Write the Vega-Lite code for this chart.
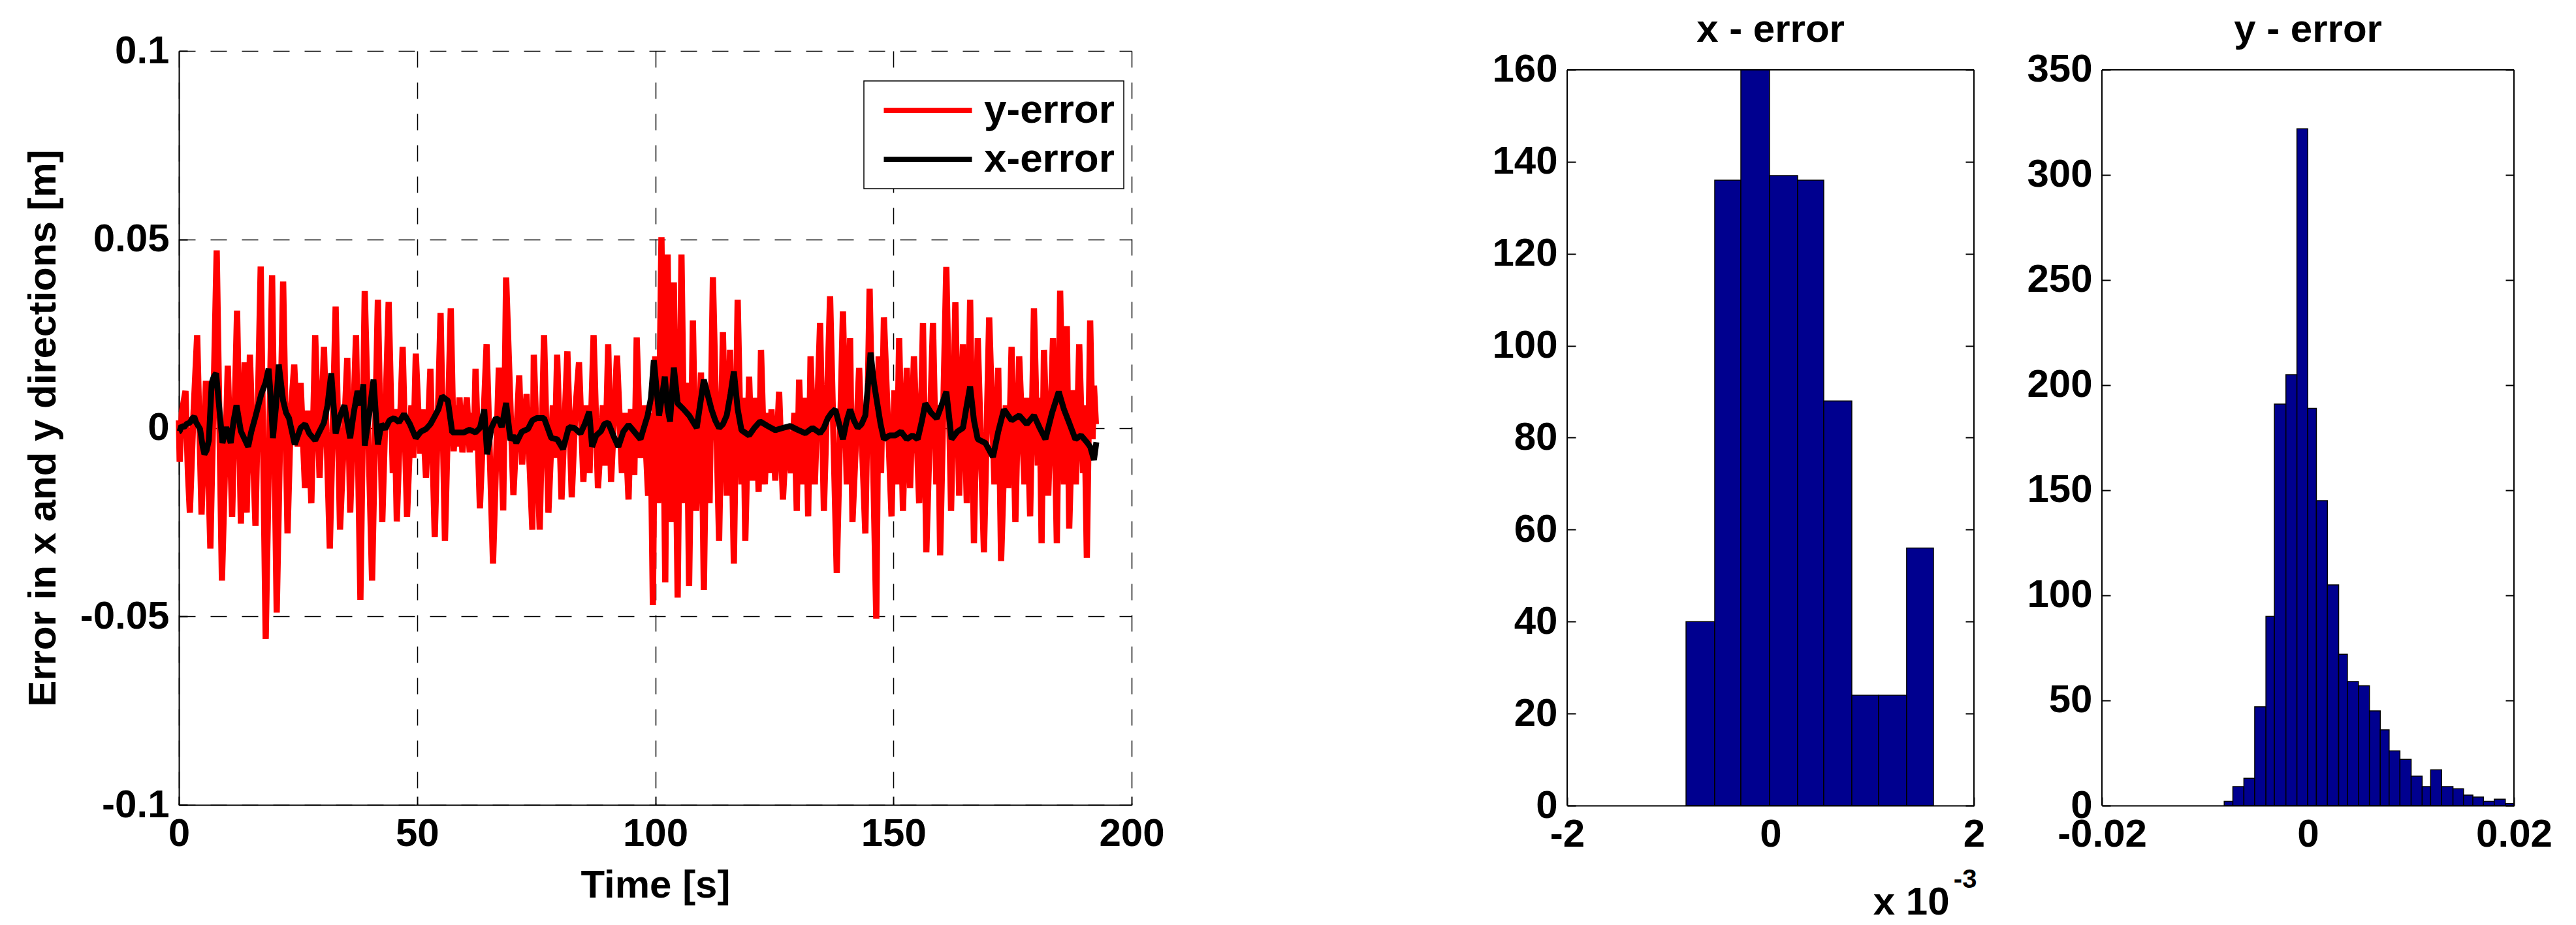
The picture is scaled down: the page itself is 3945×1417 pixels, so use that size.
{
  "$schema": "https://vega.github.io/schema/vega-lite/v6.json",
  "background": "white",
  "padding": {"left": 36, "top": 15, "right": 5, "bottom": 5},
  "spacing": 500,
  "config": {
    "font": "Liberation Sans",
    "view": {"stroke": null},
    "axis": {
      "labelFont": "Liberation Sans", "labelFontSize": 60, "labelFontWeight": "bold", "labelColor": "#000",
      "titleFont": "Liberation Sans", "titleFontSize": 60, "titleFontWeight": "bold", "titleColor": "#000",
      "domainColor": "#000", "domainWidth": 2, "tickColor": "#000", "tickWidth": 2, "tickSize": -13,
      "labelPadding": 28, "gridColor": "#000", "gridWidth": 1.5, "gridDash": [25, 23], "gridOpacity": 1,
      "labelFlush": false, "labelOverlap": false
    },
    "legend": {"strokeWidth": 1.5},
    "title": {"font": "Liberation Sans", "fontSize": 60, "fontWeight": "bold", "color": "#000"}
  },
  "datasets": {
    "yerr": [
      {"t":0.0,"v":0.002},{"t":0.16,"v":-0.009},{"t":0.6,"v":0.004},{"t":1.38,"v":0.0098},{"t":1.9,"v":-0.012},{"t":2.3,"v":-0.0225},{"t":3.0,"v":0.002},{"t":3.83,"v":0.0246},{"t":4.75,"v":-0.023},{"t":5.67,"v":0.0125},{"t":6.6,"v":-0.032},{"t":7.93,"v":0.0471},{"t":9.03,"v":-0.0405},{"t":10.26,"v":0.0165},{"t":11.17,"v":-0.0236},{"t":12.21,"v":0.0311},{"t":13.01,"v":-0.0254},{"t":13.8,"v":0.0174},{"t":14.23,"v":-0.0225},{"t":14.9,"v":0.0194},{"t":16.07,"v":-0.026},{"t":17.17,"v":0.0428},{"t":18.22,"v":-0.056},{"t":19.56,"v":0.0405},{"t":20.53,"v":-0.049},{"t":21.88,"v":0.0388},{"t":22.8,"v":-0.028},{"t":23.5,"v":0.004},{"t":24.21,"v":0.0168},{"t":24.95,"v":-0.005},{"t":25.55,"v":0.0119},{"t":26.47,"v":-0.016},{"t":27.08,"v":0.0046},{"t":27.8,"v":-0.02},{"t":28.61,"v":0.0246},{"t":29.53,"v":-0.0132},{"t":30.45,"v":0.0215},{"t":31.68,"v":-0.032},{"t":32.9,"v":0.0322},{"t":33.82,"v":-0.027},{"t":35.34,"v":0.0186},{"t":35.96,"v":-0.0225},{"t":37.18,"v":0.0246},{"t":38.1,"v":-0.0456},{"t":39.01,"v":0.0363},{"t":40.55,"v":-0.0405},{"t":41.77,"v":0.034},{"t":42.69,"v":-0.025},{"t":44.03,"v":0.0334},{"t":44.9,"v":-0.012},{"t":45.3,"v":0.005},{"t":45.74,"v":-0.0248},{"t":46.97,"v":0.0215},{"t":47.89,"v":-0.0236},{"t":48.8,"v":0.006},{"t":49.2,"v":-0.008},{"t":49.73,"v":0.0197},{"t":50.64,"v":-0.0068},{"t":51.13,"v":0.0049},{"t":51.87,"v":-0.0132},{"t":52.79,"v":0.0157},{"t":53.71,"v":-0.029},{"t":54.93,"v":0.0305},{"t":55.85,"v":-0.03},{"t":57.07,"v":0.0317},{"t":57.68,"v":-0.0062},{"t":58.3,"v":0.006},{"t":58.6,"v":-0.005},{"t":58.9,"v":0.0081},{"t":59.52,"v":-0.0065},{"t":60.44,"v":0.0081},{"t":61.04,"v":-0.0065},{"t":61.6,"v":0.004},{"t":61.9,"v":-0.006},{"t":62.27,"v":0.0157},{"t":63.19,"v":-0.0213},{"t":64.59,"v":0.0222},{"t":65.94,"v":-0.036},{"t":67.16,"v":0.016},{"t":68.08,"v":-0.0219},{"t":68.69,"v":0.0399},{"t":70.22,"v":-0.0178},{"t":71.44,"v":0.0139},{"t":72.06,"v":-0.0097},{"t":72.98,"v":0.009},{"t":74.2,"v":-0.027},{"t":74.5,"v":0.0194},{"t":75.74,"v":-0.027},{"t":76.65,"v":0.0246},{"t":77.57,"v":-0.0225},{"t":78.5,"v":0.006},{"t":78.9,"v":-0.008},{"t":79.4,"v":0.0194},{"t":80.32,"v":-0.019},{"t":81.55,"v":0.0203},{"t":82.47,"v":-0.0184},{"t":83.2,"v":0.004},{"t":83.99,"v":0.0174},{"t":84.91,"v":-0.0143},{"t":85.6,"v":0.006},{"t":86.2,"v":-0.012},{"t":87.05,"v":0.0246},{"t":87.97,"v":-0.016},{"t":89.0,"v":0.006},{"t":89.5,"v":-0.01},{"t":90.12,"v":0.0222},{"t":90.72,"v":-0.0143},{"t":91.96,"v":0.0192},{"t":93.0,"v":-0.012},{"t":93.6,"v":0.004},{"t":94.39,"v":-0.019},
      {"t":94.9,"v":0.005},{"t":95.6,"v":-0.0125},{"t":96.1,"v":0.024},{"t":96.9,"v":-0.008},{"t":97.6,"v":0.006},{"t":98.5,"v":-0.018},{"t":99.0,"v":0.004},{"t":99.5,"v":-0.047},{"t":100.0,"v":0.019},{"t":100.6,"v":-0.02},{"t":101.3,"v":0.0506},{"t":102.1,"v":-0.041},{"t":102.6,"v":0.046},{"t":103.3,"v":-0.025},{"t":103.9,"v":0.0386},{"t":104.7,"v":-0.045},{"t":105.5,"v":0.046},{"t":106.2,"v":-0.02},{"t":106.6,"v":0.012},{"t":107.1,"v":-0.042},{"t":107.9,"v":0.0285},{"t":108.6,"v":-0.022},{"t":109.6,"v":0.0147},{"t":110.2,"v":-0.043},{"t":110.8,"v":0.01},{"t":111.4,"v":-0.02},{"t":112.1,"v":0.04},{"t":113.4,"v":-0.03},{"t":114.2,"v":0.0254},{"t":115.0,"v":-0.018},{"t":115.7,"v":0.0207},{"t":116.5,"v":-0.036},{"t":117.3,"v":0.034},{"t":118.1,"v":-0.015},{"t":118.5,"v":0.008},{"t":118.9,"v":-0.03},{"t":119.7,"v":0.0136},{"t":120.4,"v":-0.014},{"t":121.1,"v":0.008},{"t":121.7,"v":-0.017},{"t":122.2,"v":0.0207},{"t":123.0,"v":-0.015},{"t":123.6,"v":0.004},{"t":124.0,"v":-0.012},{"t":124.4,"v":0.0049},{"t":125.2,"v":-0.014},{"t":126.0,"v":0.0096},{"t":126.8,"v":-0.019},{"t":127.6,"v":0.0},{"t":128.5,"v":-0.012},{"t":129.2,"v":0.004},{"t":129.7,"v":-0.022},{"t":130.2,"v":0.0128},{"t":131.0,"v":-0.015},{"t":131.6,"v":0.008},{"t":132.1,"v":-0.0235},{"t":132.6,"v":0.019},{"t":133.5,"v":-0.015},{"t":134.6,"v":0.0278},{"t":135.4,"v":-0.022},{"t":136.7,"v":0.0349},{"t":138.1,"v":-0.0385},{"t":139.4,"v":0.0309},{"t":140.2,"v":-0.015},{"t":140.9,"v":0.0238},{"t":141.4,"v":-0.025},{"t":142.8,"v":0.0159},{"t":144.1,"v":-0.028},{"t":145.0,"v":0.0369},{"t":146.4,"v":-0.0506},{"t":146.9,"v":0.019},{"t":147.4,"v":-0.012},{"t":148.0,"v":0.0293},{"t":149.6,"v":-0.0235},{"t":150.2,"v":0.01},{"t":150.7,"v":-0.015},{"t":151.2,"v":0.0238},{"t":152.0,"v":-0.022},{"t":152.8,"v":0.0159},{"t":153.5,"v":-0.016},{"t":154.3,"v":0.019},{"t":155.4,"v":-0.02},{"t":156.2,"v":0.0278},{"t":156.9,"v":-0.033},{"t":158.3,"v":0.0278},{"t":159.0,"v":-0.015},{"t":159.4,"v":0.006},{"t":159.8,"v":-0.0338},{"t":161.1,"v":0.0427},{"t":162.1,"v":-0.022},{"t":163.0,"v":0.0333},{"t":163.8,"v":-0.018},{"t":164.6,"v":0.0222},{"t":165.4,"v":-0.02},{"t":166.1,"v":0.034},{"t":166.9,"v":-0.0306},{"t":167.7,"v":0.0238},{"t":169.0,"v":-0.033},{"t":170.1,"v":0.0293},{"t":171.2,"v":-0.015},{"t":172.0,"v":0.0159},{"t":172.6,"v":-0.0353},{"t":173.6,"v":0.006},{"t":174.1,"v":-0.016},{"t":174.8,"v":0.0215},{"t":175.6,"v":-0.025},{"t":176.4,"v":0.019},{"t":177.5,"v":-0.015},{"t":178.0,"v":0.008},{"t":178.7,"v":-0.0235},{"t":179.5,"v":0.0317},{"t":180.3,"v":-0.01},{"t":180.7,"v":0.008},{"t":181.1,"v":-0.0306},{"t":181.6,"v":0.0207},{"t":182.5,"v":-0.018},{"t":183.5,"v":0.0238},{"t":184.3,"v":-0.0306},{"t":185.0,"v":0.0364},{"t":185.8,"v":-0.015},{"t":186.4,"v":0.027},{"t":186.9,"v":-0.0267},{"t":187.7,"v":0.01},{"t":188.3,"v":-0.015},{"t":189.0,"v":0.0222},{"t":189.8,"v":-0.012},{"t":190.1,"v":0.006},{"t":190.6,"v":-0.0345},{"t":191.3,"v":0.0285},{"t":191.8,"v":-0.003},{"t":192.1,"v":0.0112},{"t":192.5,"v":0.001}
    ],
    "xerr": [
      {"t":0.0,"v":-0.001},{"t":0.16,"v":-0.0009},{"t":0.5,"v":0.0005},{"t":1.07,"v":0.0002},{"t":1.6,"v":0.001},{"t":2.3,"v":0.0014},{"t":2.8,"v":0.0025},{"t":3.22,"v":0.003},{"t":3.6,"v":0.0015},{"t":4.44,"v":-0.0003},{"t":5.0,"v":-0.005},{"t":5.36,"v":-0.007},{"t":5.8,"v":-0.006},{"t":6.28,"v":-0.0033},{"t":6.89,"v":0.012},{"t":7.3,"v":0.0135},{"t":7.81,"v":0.0145},{"t":8.42,"v":0.006},{"t":9.15,"v":-0.004},{"t":9.95,"v":0.0002},{"t":10.87,"v":-0.004},{"t":11.5,"v":0.002},{"t":12.09,"v":0.006},{"t":13.01,"v":-0.0009},{"t":14.54,"v":-0.005},{"t":15.2,"v":-0.001},{"t":16.07,"v":0.003},{"t":17.29,"v":0.009},{"t":18.2,"v":0.012},{"t":18.82,"v":0.0157},{"t":19.3,"v":0.008},{"t":19.74,"v":-0.0027},{"t":20.4,"v":0.006},{"t":20.96,"v":0.0168},{"t":21.88,"v":0.0072},{"t":22.5,"v":0.004},{"t":23.11,"v":0.0026},{"t":24.33,"v":-0.0044},{"t":25.55,"v":0.0},{"t":26.5,"v":0.001},{"t":27.39,"v":-0.0015},{"t":28.61,"v":-0.0033},{"t":29.5,"v":-0.001},{"t":30.45,"v":0.0014},{"t":31.2,"v":0.006},{"t":31.98,"v":0.0145},{"t":32.9,"v":-0.0015},{"t":33.8,"v":0.003},{"t":34.73,"v":0.006},{"t":35.96,"v":-0.0027},{"t":36.7,"v":0.004},{"t":37.49,"v":0.0098},{"t":38.2,"v":0.006},{"t":38.71,"v":0.0116},{"t":39.01,"v":-0.0047},{"t":40.0,"v":0.004},{"t":40.85,"v":0.0128},{"t":41.77,"v":-0.0044},{"t":42.5,"v":0.001},{"t":43.3,"v":-0.0003},{"t":44.2,"v":0.002},{"t":45.13,"v":0.0026},{"t":46.2,"v":0.0015},{"t":47.28,"v":0.0037},{"t":48.5,"v":0.001},{"t":49.73,"v":-0.0027},{"t":50.8,"v":-0.001},{"t":51.87,"v":-0.0003},{"t":52.8,"v":0.001},{"t":53.71,"v":0.0031},{"t":54.5,"v":0.005},{"t":55.24,"v":0.0084},{"t":56.46,"v":0.0072},{"t":57.38,"v":-0.0012},{"t":58.6,"v":-0.0012},{"t":59.83,"v":-0.0012},{"t":61.0,"v":-0.0005},{"t":62.27,"v":-0.0012},{"t":63.2,"v":0.0},{"t":64.1,"v":0.0049},{"t":64.71,"v":-0.007},{"t":65.6,"v":0.0},{"t":66.55,"v":0.0026},{"t":67.2,"v":0.002},{"t":67.77,"v":0.0002},{"t":68.69,"v":0.0066},{"t":69.61,"v":-0.0033},{"t":70.2,"v":-0.002},{"t":70.83,"v":-0.004},{"t":72.0,"v":-0.001},{"t":73.28,"v":-0.0003},{"t":74.2,"v":0.002},{"t":75.11,"v":0.0026},{"t":76.65,"v":0.0026},{"t":77.4,"v":0.0},{"t":78.18,"v":-0.0027},{"t":79.4,"v":-0.003},{"t":80.63,"v":-0.0056},{"t":81.86,"v":0.0002},{"t":83.0,"v":0.0},{"t":84.3,"v":-0.0015},{"t":85.2,"v":0.001},{"t":86.13,"v":0.0043},{"t":86.74,"v":-0.005},{"t":87.6,"v":-0.002},{"t":88.58,"v":-0.0009},{"t":89.3,"v":0.001},{"t":90.12,"v":0.0014},{"t":91.2,"v":-0.002},{"t":92.26,"v":-0.005},{"t":93.3,"v":-0.001},{"t":94.39,"v":0.0008},{"t":95.6,"v":-0.001},{"t":96.9,"v":-0.003},{"t":97.6,"v":0.0},{"t":98.4,"v":0.0033},{"t":99.1,"v":0.008},{"t":99.7,"v":0.018},{"t":100.3,"v":0.01},{"t":100.8,"v":0.0033},{"t":101.4,"v":0.008},{"t":102.0,"v":0.0136},{"t":102.6,"v":0.005},{"t":103.1,"v":0.0017},{"t":103.9,"v":0.016},{"t":104.7,"v":0.0065},{"t":105.9,"v":0.005},{"t":107.1,"v":0.0033},{"t":108.7,"v":0.0},{"t":109.4,"v":0.006},{"t":110.2,"v":0.0128},{"t":111.8,"v":0.0049},{"t":112.6,"v":0.002},{"t":113.4,"v":0.0},{"t":114.2,"v":0.001},{"t":115.0,"v":0.0033},{"t":115.8,"v":0.009},{"t":116.5,"v":0.015},{"t":117.3,"v":0.005},{"t":118.1,"v":-0.0006},{"t":119.7,"v":-0.002},{"t":120.8,"v":0.0},{"t":122.0,"v":0.0017},{"t":123.6,"v":0.0005},{"t":125.2,"v":-0.0006},{"t":126.8,"v":0.0},{"t":128.3,"v":0.0005},{"t":129.9,"v":-0.0005},{"t":131.5,"v":-0.0014},{"t":133.0,"v":0.0},{"t":134.6,"v":-0.0014},{"t":135.4,"v":0.0},{"t":136.2,"v":0.0025},{"t":137.0,"v":0.004},{"t":137.8,"v":0.0049},{"t":138.6,"v":0.001},{"t":139.4,"v":-0.003},{"t":140.2,"v":0.002},{"t":140.9,"v":0.0049},{"t":141.7,"v":0.002},{"t":142.5,"v":0.0},{"t":143.3,"v":0.001},{"t":144.1,"v":0.0033},{"t":144.7,"v":0.012},{"t":145.2,"v":0.02},{"t":145.9,"v":0.012},{"t":146.6,"v":0.0065},{"t":147.3,"v":0.001},{"t":148.0,"v":-0.003},{"t":149.2,"v":-0.002},{"t":150.4,"v":-0.002},{"t":151.6,"v":-0.001},{"t":152.8,"v":-0.003},{"t":154.0,"v":-0.002},{"t":155.1,"v":-0.003},{"t":156.0,"v":0.002},{"t":156.7,"v":0.0065},{"t":157.9,"v":0.004},{"t":159.1,"v":0.0025},{"t":160.1,"v":0.006},{"t":161.1,"v":0.0096},{"t":161.6,"v":0.004},{"t":162.2,"v":-0.003},{"t":163.4,"v":-0.001},{"t":164.6,"v":0.0},{"t":165.4,"v":0.006},{"t":166.1,"v":0.011},{"t":166.9,"v":0.002},{"t":167.7,"v":-0.003},{"t":169.3,"v":-0.004},{"t":170.9,"v":-0.0077},{"t":172.0,"v":-0.001},{"t":173.2,"v":0.0049},{"t":174.8,"v":0.002},{"t":176.4,"v":0.0033},{"t":178.0,"v":0.001},{"t":179.5,"v":0.0033},{"t":180.7,"v":0.0},{"t":181.9,"v":-0.003},{"t":183.3,"v":0.004},{"t":184.7,"v":0.0096},{"t":185.8,"v":0.0049},{"t":187.0,"v":0.001},{"t":188.2,"v":-0.003},{"t":189.4,"v":-0.002},{"t":190.6,"v":-0.0038},{"t":191.3,"v":-0.005},{"t":192.1,"v":-0.0085},{"t":192.6,"v":-0.0038}
    ],
    "hx": [
      {"x0":-0.000831,"x1":-0.000549,"n":40},{"x0":-0.000549,"x1":-0.000292,"n":136},{"x0":-0.000292,"x1":-0.00001,"n":160},{"x0":-0.00001,"x1":0.000266,"n":137},{"x0":0.000266,"x1":0.000523,"n":136},{"x0":0.000523,"x1":0.000799,"n":88},{"x0":0.000799,"x1":0.001062,"n":24},{"x0":0.001062,"x1":0.001338,"n":24},{"x0":0.001338,"x1":0.001602,"n":56}
    ],
    "hy": [
      {"x0":-0.00813,"x1":-0.00729,"n":2},{"x0":-0.00729,"x1":-0.00622,"n":9},{"x0":-0.00622,"x1":-0.00517,"n":13},{"x0":-0.00517,"x1":-0.00408,"n":47},{"x0":-0.00408,"x1":-0.00326,"n":90},{"x0":-0.00326,"x1":-0.00214,"n":191},{"x0":-0.00214,"x1":-0.00107,"n":205},{"x0":-0.00107,"x1":-0.00002,"n":322},{"x0":-0.00002,"x1":0.00082,"n":189},{"x0":0.00082,"x1":0.00189,"n":145},{"x0":0.00189,"x1":0.00298,"n":105},{"x0":0.00298,"x1":0.00383,"n":72},{"x0":0.00383,"x1":0.0049,"n":59},{"x0":0.0049,"x1":0.00597,"n":57},{"x0":0.00597,"x1":0.00702,"n":45},{"x0":0.00702,"x1":0.00788,"n":36},{"x0":0.00788,"x1":0.00893,"n":26},{"x0":0.00893,"x1":0.01002,"n":22},{"x0":0.01002,"x1":0.01109,"n":14},{"x0":0.01109,"x1":0.01191,"n":9},{"x0":0.01191,"x1":0.01298,"n":17},{"x0":0.01298,"x1":0.01408,"n":9},{"x0":0.01408,"x1":0.0151,"n":8},{"x0":0.0151,"x1":0.01601,"n":5},{"x0":0.01601,"x1":0.01704,"n":4},{"x0":0.01704,"x1":0.01809,"n":2},{"x0":0.01809,"x1":0.01916,"n":3},{"x0":0.01916,"x1":0.02,"n":1}
    ]
  },
  "hconcat": [
    {
      "width": 1459,
      "height": 1155,
      "layer": [
        {
          "data": {"name": "yerr"},
          "mark": {"type": "line", "strokeWidth": 9.5, "strokeJoin": "bevel"},
          "encoding": {
            "x": {"field": "t", "type": "quantitative",
              "scale": {"domain": [0, 200], "nice": false, "zero": false},
              "axis": {"values": [0, 50, 100, 150, 200], "grid": true, "title": "Time [s]", "labelExpr": "'' + datum.value", "titlePadding": 20}},
            "y": {"field": "v", "type": "quantitative",
              "scale": {"domain": [-0.1, 0.1], "nice": false, "zero": false},
              "axis": {"values": [-0.1, -0.05, 0, 0.05, 0.1], "grid": true, "title": "Error in x and y directions [m]", "labelExpr": "'' + datum.value", "titlePadding": 25}},
            "color": {"datum": "y-error", "type": "nominal",
              "scale": {"domain": ["y-error", "x-error"], "range": ["#ff0000", "#000000"]},
              "legend": {"orient": "none", "legendX": 1049, "legendY": 46, "title": null,
                "symbolType": "M-2.5,0H2.5", "symbolSize": 2916, "symbolStrokeWidth": 8,
                "labelFont": "Liberation Sans", "labelFontSize": 62, "labelFontWeight": "bold", "labelColor": "#000", "labelLimit": 500,
                "labelOffset": 55, "symbolOffset": 53, "padding": 14, "rowPadding": 13,
                "strokeColor": "#000", "fillColor": "#fff"}}
          }
        },
        {
          "data": {"name": "xerr"},
          "mark": {"type": "line", "strokeWidth": 9, "strokeJoin": "bevel"},
          "encoding": {
            "x": {"field": "t", "type": "quantitative"},
            "y": {"field": "v", "type": "quantitative"},
            "color": {"datum": "x-error", "type": "nominal"}
          }
        }
      ]
    },
    {
      "spacing": 63,
      "hconcat": [
        {
          "width": 623,
          "height": 1156,
          "title": {"text": "x - error", "offset": 0, "frame": "group"},
          "layer": [
            {
              "data": {"name": "hx"},
              "mark": {"type": "bar", "fill": "#00008F", "stroke": "#000", "strokeWidth": 1.5},
              "encoding": {
                "x": {"field": "x0", "type": "quantitative",
                  "scale": {"domain": [-0.002, 0.002], "nice": false, "zero": false},
                  "axis": {"values": [-0.002, 0, 0.002], "labelExpr": "'' + round(datum.value*1000)", "title": null, "grid": false}},
                "x2": {"field": "x1"},
                "y": {"field": "n", "type": "quantitative",
                  "scale": {"domain": [0, 164.117], "nice": false},
                  "axis": {"orient": "left", "values": [0, 20, 40, 60, 80, 100, 120, 140, 160], "domain": false, "grid": false, "title": null}},
                "y2": {"datum": 0}
              }
            },
            {
              "data": {"values": [{}]},
              "mark": {"type": "rule", "color": "#000", "strokeWidth": 2},
              "encoding": {
                "x": {"datum": 0.002},
                "y": {"datum": 0, "type": "quantitative", "axis": {"orient": "right", "labels": false, "values": [0, 20, 40, 60, 80, 100, 120, 140, 160], "domain": false, "grid": false, "title": null}},
                "y2": {"datum": 160}
              }
            },
            {
              "data": {"values": [{}]},
              "mark": {"type": "rule", "color": "#000", "strokeWidth": 2},
              "encoding": {"x": {"datum": -0.002}, "y": {"datum": 0, "type": "quantitative", "axis": null}, "y2": {"datum": 160}}
            },
            {
              "data": {"values": [{}]},
              "mark": {"type": "rule", "color": "#000", "strokeWidth": 2},
              "encoding": {"x": {"datum": -0.002}, "x2": {"datum": 0.002}, "y": {"datum": 160, "type": "quantitative", "axis": null}}
            },
            {
              "data": {"values": [{}]},
              "mark": {"type": "text", "text": "x 10", "align": "left", "baseline": "alphabetic", "font": "Liberation Sans", "fontSize": 60, "fontWeight": "bold", "color": "#000"},
              "encoding": {"x": {"datum": 0.00101}, "y": {"datum": -23.7, "type": "quantitative", "axis": null}}
            },
            {
              "data": {"values": [{}]},
              "mark": {"type": "text", "text": "-3", "align": "left", "baseline": "alphabetic", "font": "Liberation Sans", "fontSize": 40, "fontWeight": "bold", "color": "#000"},
              "encoding": {"x": {"datum": 0.0018}, "y": {"datum": -17.9, "type": "quantitative", "axis": null}}
            }
          ],
          "resolve": {"axis": {"y": "independent"}}
        },
        {
          "width": 631,
          "height": 1156,
          "title": {"text": "y - error", "offset": 0, "frame": "group"},
          "layer": [
            {
              "data": {"name": "hy"},
              "mark": {"type": "bar", "fill": "#00008F", "stroke": "#000", "strokeWidth": 1.5},
              "encoding": {
                "x": {"field": "x0", "type": "quantitative",
                  "scale": {"domain": [-0.02, 0.02], "nice": false, "zero": false},
                  "axis": {"values": [-0.02, 0, 0.02], "labelExpr": "'' + datum.value", "title": null, "grid": false}},
                "x2": {"field": "x1"},
                "y": {"field": "n", "type": "quantitative",
                  "scale": {"domain": [0, 359.0], "nice": false},
                  "axis": {"orient": "left", "values": [0, 50, 100, 150, 200, 250, 300, 350], "domain": false, "grid": false, "title": null}},
                "y2": {"datum": 0}
              }
            },
            {
              "data": {"values": [{}]},
              "mark": {"type": "rule", "color": "#000", "strokeWidth": 2},
              "encoding": {
                "x": {"datum": 0.02},
                "y": {"datum": 0, "type": "quantitative", "axis": {"orient": "right", "labels": false, "values": [0, 50, 100, 150, 200, 250, 300, 350], "domain": false, "grid": false, "title": null}},
                "y2": {"datum": 350}
              }
            },
            {
              "data": {"values": [{}]},
              "mark": {"type": "rule", "color": "#000", "strokeWidth": 2},
              "encoding": {"x": {"datum": -0.02}, "y": {"datum": 0, "type": "quantitative", "axis": null}, "y2": {"datum": 350}}
            },
            {
              "data": {"values": [{}]},
              "mark": {"type": "rule", "color": "#000", "strokeWidth": 2},
              "encoding": {"x": {"datum": -0.02}, "x2": {"datum": 0.02}, "y": {"datum": 350, "type": "quantitative", "axis": null}}
            }
          ],
          "resolve": {"axis": {"y": "independent"}}
        }
      ]
    }
  ]
}
